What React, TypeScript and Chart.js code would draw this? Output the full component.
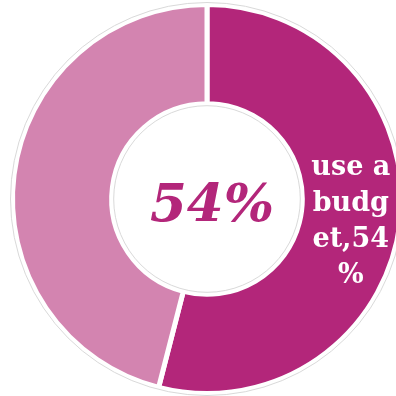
import React, { useEffect, useRef } from "react";
import { Chart, registerables } from "chart.js";

Chart.register(...registerables);

const categories = ["use a budget", "do not use a budget"];
const values = [54, 46];
const colors = ["#B3267A", "#D384B0"];
const centerText = "54%";
const sliceLabelLines = ["use a", "budg", "et,54", "%"];

const ringPlugin = {
  id: "ringDecor",
  afterDatasetsDraw(chart: any) {
    const meta = chart.getDatasetMeta(0);
    const arc = meta.data[0];
    if (!arc) return;
    const { x, y, outerRadius, innerRadius } = arc.getProps(["x", "y", "outerRadius", "innerRadius"], true);
    const ctx = chart.ctx;
    ctx.save();
    ctx.strokeStyle = "#d9d9d9";
    ctx.lineWidth = 1;
    ctx.beginPath();
    ctx.arc(x, y, outerRadius + 2, 0, Math.PI * 2);
    ctx.stroke();
    ctx.beginPath();
    ctx.arc(x, y, innerRadius - 2, 0, Math.PI * 2);
    ctx.stroke();

    // center text
    ctx.fillStyle = colors[0];
    ctx.font = "italic bold 53px 'DejaVu Serif'";
    ctx.textAlign = "center";
    ctx.textBaseline = "alphabetic";
    ctx.fillText(centerText, x + 5, y + 22);

    // slice label
    const c = arc.getCenterPoint();
    ctx.fillStyle = "#ffffff";
    ctx.font = "bold 27px 'DejaVu Serif'";
    const lh = 36;
    const n = sliceLabelLines.length;
    sliceLabelLines.forEach((line, i) => {
      ctx.fillText(line, c.x, c.y + 12 + (i - (n - 1) / 2) * lh);
    });
    ctx.restore();
  },
};

export default function App() {
  const ref = useRef<HTMLCanvasElement>(null);
  useEffect(() => {
    if (!ref.current) return;
    const chart = new Chart(ref.current, {
      type: "doughnut",
      data: {
        labels: categories,
        datasets: [
          {
            data: values,
            backgroundColor: colors,
            borderColor: "#ffffff",
            borderWidth: 5,
          },
        ],
      },
      options: {
        responsive: false,
        animation: false,
        cutout: "49%",
        layout: { padding: { left: 10, right: 0, top: 2, bottom: 0 } },
        plugins: {
          legend: { display: false },
          tooltip: { enabled: false },
        },
      },
      plugins: [ringPlugin],
    });
    return () => chart.destroy();
  }, []);
  return (
    <div style={{ position: "fixed", left: 0, top: 0, width: 396, height: 396, overflow: "hidden", background: "#fff" }}>
      <canvas ref={ref} width={404} height={396} />
    </div>
  );
}
